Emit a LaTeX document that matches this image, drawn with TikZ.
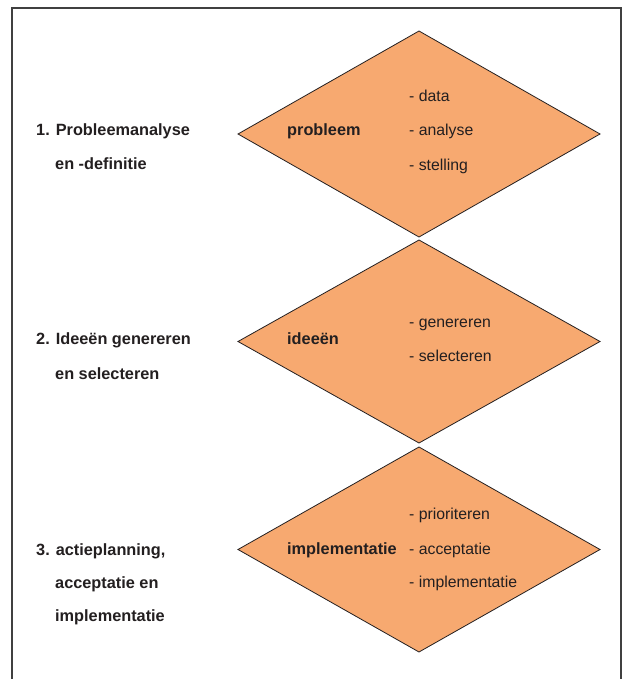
\documentclass[tikz,border=0pt]{standalone}
\usepackage{fontspec}
\setmainfont{Liberation Sans}
\definecolor{diafill}{RGB}{247,169,112}
\definecolor{txt}{RGB}{35,31,32}
\begin{document}
\begin{tikzpicture}[x=1pt,y=-1pt,
  dia/.style={fill=diafill,draw=txt,line width=0.8pt,line join=miter},
  lbl/.style={anchor=base west,inner sep=0pt,text=txt,font=\fontsize{16.3}{19}\selectfont\bfseries},
  itm/.style={anchor=base west,inner sep=0pt,text=txt,font=\fontsize{15.8}{19}\selectfont},
  key/.style={anchor=base west,inner sep=0pt,text=txt,font=\fontsize{16.3}{19}\selectfont\bfseries}]
\useasboundingbox (0,0) rectangle (623,679);
\fill[white] (0,0) rectangle (623,679);
% frame
\draw[line width=1.3pt,draw=black!75] (12,700) -- (12,8) -- (621,8) -- (621,700);
% diamonds
\coordinate (d1c) at (419,134);
\coordinate (d2c) at (419,341.5);
\coordinate (d3c) at (419,549.5);
\draw[dia] (419,31) -- (600,134) -- (419,237) -- (238,134) -- cycle;
\draw[dia] (419,240) -- (600,341.5) -- (419,443) -- (238,341.5) -- cycle;
\draw[dia] (419,447) -- (600,549.5) -- (419,652) -- (238,549.5) -- cycle;
% left labels
\node[lbl] (l1a) at (36,136) {1. Probleemanalyse};
\node[lbl] (l1b) at (55,169) {en -definitie};
\node[lbl] (l2a) at (36,344) {2. Ideeën genereren};
\node[lbl] (l2b) at (55,379) {en selecteren};
\node[lbl] (l3a) at (36,555) {3. actieplanning,};
\node[lbl] (l3b) at (55,588) {acceptatie en};
\node[lbl] (l3c) at (55,621) {implementatie};
% diamond 1
\node[key] (k1) at (287,136) {probleem};
\node[itm] (i1a) at (409,102) {- data};
\node[itm] (i1b) at (409,136) {- analyse};
\node[itm] (i1c) at (409,171) {- stelling};
% diamond 2
\node[key] (k2) at (287,344) {ideeën};
\node[itm] (i2a) at (409,327) {- genereren};
\node[itm] (i2b) at (409,361) {- selecteren};
% diamond 3
\node[key] (k3) at (287,554) {implementatie};
\node[itm] (i3a) at (409,519) {- prioriteren};
\node[itm] (i3b) at (409,554) {- acceptatie};
\node[itm] (i3c) at (409,587) {- implementatie};
\end{tikzpicture}
\end{document}
